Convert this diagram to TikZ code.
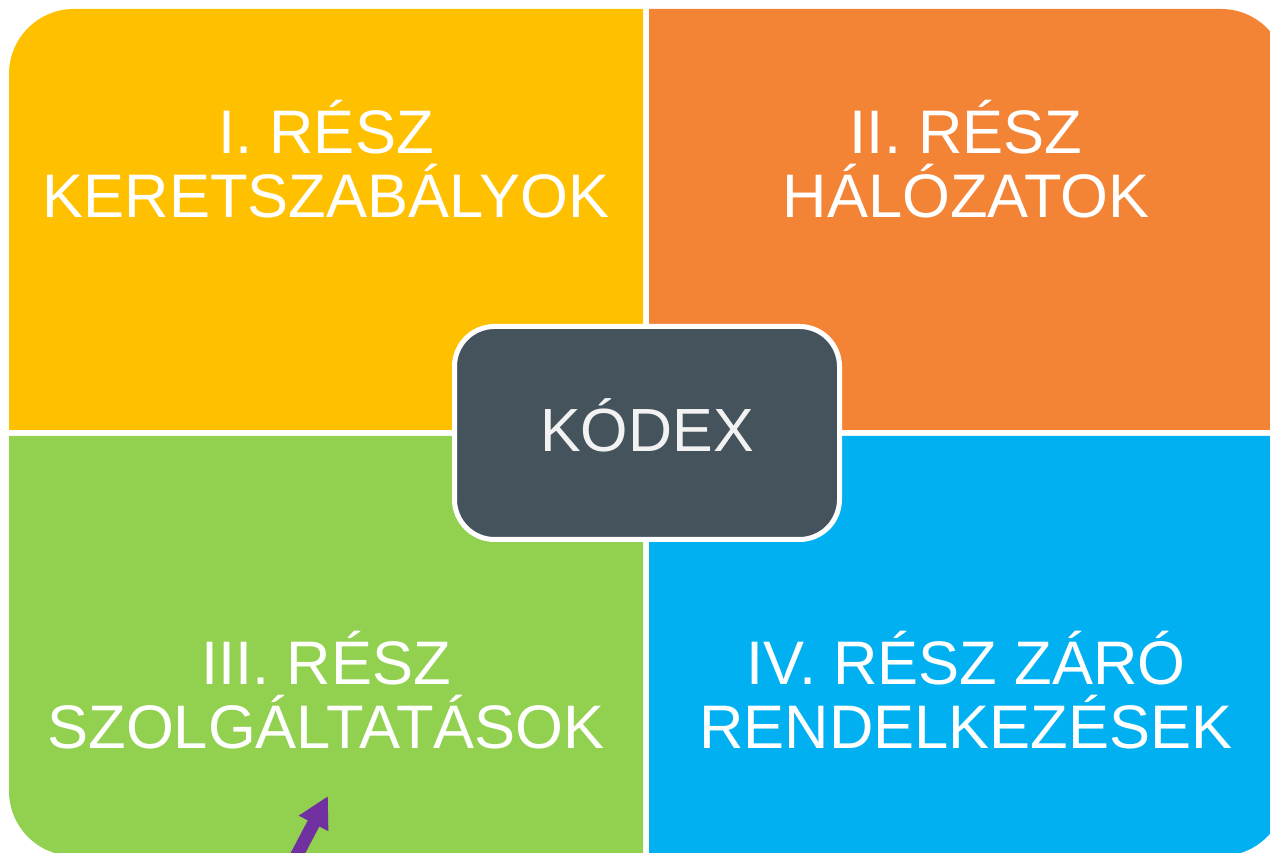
\documentclass[tikz,border=0pt]{standalone}
\usepackage{fontspec}
\setmainfont{Liberation Sans}
\usepackage{tikz}
\usetikzlibrary{arrows.meta}
\definecolor{partone}{HTML}{FFC000}
\definecolor{parttwo}{HTML}{F38436}
\definecolor{partthree}{HTML}{92D050}
\definecolor{partfour}{HTML}{00B0F0}
\definecolor{codexgray}{HTML}{44535C}
\definecolor{arrowpurple}{HTML}{7030A0}

\begin{document}
\begin{tikzpicture}[x=1pt, y=1pt,
  parttext/.style={text=white, align=center, font=\fontsize{61.5}{64}\selectfont},
  codexbox/.style={draw=white, line width=5pt, fill=codexgray, rounded corners=40pt,
    minimum width=385pt, minimum height=213pt, text=white!95!black,
    font=\fontsize{61}{64}\selectfont, text height=43pt, text depth=6pt}]
\useasboundingbox (0,0) rectangle (1270,853);
\clip (0,0) rectangle (1270,853);
%four parts
\fill[partone] (9,423) -- (9,779) arc[start angle=180, end angle=90, radius=65pt] -- (643,844) -- (643,423) -- cycle;
\fill[parttwo] (649,423) -- (649,844) -- (1221,844) arc[start angle=90, end angle=0, radius=65pt] -- (1286,423) -- cycle;
\fill[partthree] (9,417) -- (643,417) -- (643,-3) -- (74,-3) arc[start angle=270, end angle=180, radius=65pt] -- cycle;
\fill[partfour] (649,417) -- (1286,417) -- (1286,62) arc[start angle=0, end angle=-90, radius=65pt] -- (649,-3) -- cycle;
\node[parttext] (keret) at (326,694) {I. RÉSZ\\KERETSZABÁLYOK};
\node[parttext] (halo) at (966,694) {II. RÉSZ\\HÁLÓZATOK};
\node[parttext] (szolg) at (326,163) {III. RÉSZ\\SZOLGÁLTATÁSOK};
\node[parttext] (zaro) at (966,163) {IV. RÉSZ ZÁRÓ\\RENDELKEZÉSEK};
%middle box
\node[codexbox] (kodex) at (647,420) {KÓDEX};
%arrow
\coordinate (tail) at (288,-19);
\coordinate (tip) at (328,57);
\draw[arrowpurple, line width=13pt, -{Triangle[length=31pt, width=31pt]}] (tail) -- (tip);
\end{tikzpicture}
\end{document}
